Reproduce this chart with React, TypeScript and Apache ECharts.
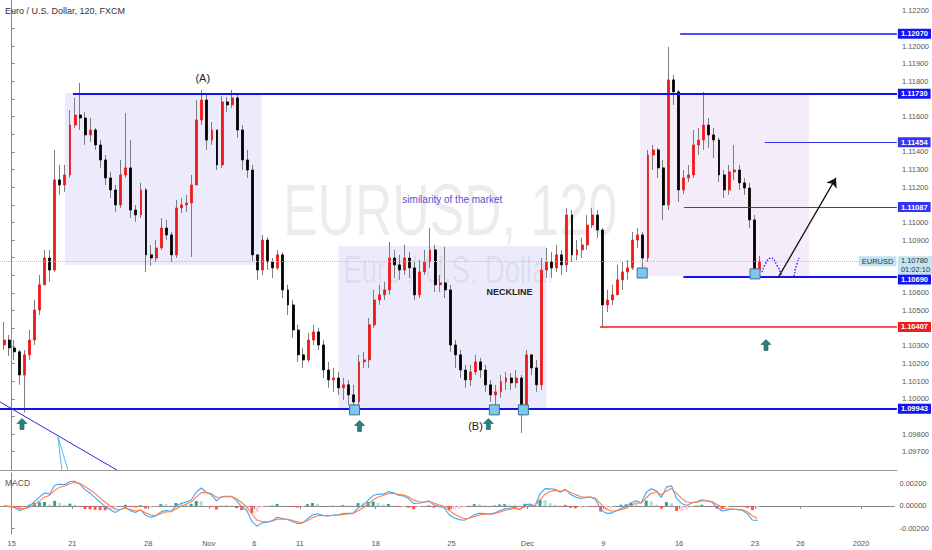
import React, { useEffect, useRef } from "react";
import * as echarts from "echarts";

// 8-hour candles (Oct 14 16:00 -> Dec 23 08:00)
const closes = [
  1.10333, 1.10288, 1.10266, 1.10135, 1.10249, 1.10333, 1.10503, 1.10646, 1.10798, 1.1073,
  1.11241, 1.11212, 1.11269, 1.11552, 1.11609, 1.11592, 1.11496, 1.11524, 1.11439, 1.11354,
  1.11252, 1.11184, 1.11099, 1.11269, 1.11309, 1.1107, 1.11042, 1.11184, 1.10816, 1.10798,
  1.10855, 1.10968, 1.10929, 1.10816, 1.11082, 1.11099, 1.1111, 1.11212, 1.11581, 1.11694,
  1.11467, 1.11524, 1.11326, 1.11683, 1.11666, 1.11706, 1.11524, 1.11354, 1.11297, 1.10816,
  1.1073, 1.109, 1.10776, 1.10742, 1.10816, 1.10617, 1.10532, 1.1039, 1.10249, 1.1022,
  1.10333, 1.10379, 1.10305, 1.10163, 1.10107, 1.10118, 1.10062, 1.10079, 1.10022, 1.09982,
  1.10209, 1.1022, 1.10419, 1.1056, 1.10589, 1.10617, 1.10798, 1.10759, 1.1073, 1.10798,
  1.10742, 1.10589, 1.10719, 1.10776, 1.10844, 1.10646, 1.10657, 1.10617, 1.10305, 1.10249,
  1.10163, 1.10107, 1.10152, 1.10209, 1.10163, 1.10079, 1.10022, 1.10039, 1.10096, 1.10118,
  1.1009, 1.10118, 1.09965, 1.10249, 1.10175, 1.10079, 1.1073, 1.10776, 1.10742, 1.10816,
  1.10759, 1.11042, 1.10816, 1.10844, 1.10872, 1.10985, 1.11042, 1.10957, 1.10532, 1.1056,
  1.10589, 1.10674, 1.10719, 1.10742, 1.109, 1.10929, 1.10798, 1.11382, 1.11411, 1.11309,
  1.11099, 1.11808, 1.1174, 1.11184, 1.11252, 1.11269, 1.11439, 1.11467, 1.11552, 1.11496,
  1.11467, 1.11269, 1.11184, 1.11286, 1.11297, 1.11224, 1.11195, 1.11014, 1.1073, 1.1078,
];
const highs = [
  1.10436, 1.10362, 1.10333, 1.10277, 1.10277, 1.1039, 1.1056, 1.10702, 1.10844, 1.10844,
  1.11411, 1.11326, 1.11326, 1.11637, 1.11706, 1.11791, 1.11626, 1.11592, 1.11535, 1.11467,
  1.11382, 1.11286, 1.11212, 1.11354, 1.1162, 1.11467, 1.11099, 1.11224, 1.11195, 1.10872,
  1.109, 1.11025, 1.11014, 1.10946, 1.11127, 1.11139, 1.11156, 1.11269, 1.11694, 1.11751,
  1.11722, 1.11569, 1.11524, 1.11717, 1.11711, 1.11751, 1.11722, 1.11552, 1.11411, 1.11326,
  1.10816, 1.10929, 1.10915, 1.10798, 1.10844, 1.1083, 1.10646, 1.1056, 1.10419, 1.10288,
  1.10373, 1.10419, 1.10402, 1.10333, 1.10209, 1.10175, 1.10152, 1.10118, 1.10107, 1.10079,
  1.10249, 1.10266, 1.10458, 1.10617, 1.10646, 1.10663, 1.10889, 1.10844, 1.10816, 1.10872,
  1.10832, 1.10776, 1.10787, 1.10844, 1.10968, 1.10872, 1.10702, 1.10861, 1.10646, 1.10333,
  1.10277, 1.10192, 1.10192, 1.10249, 1.10232, 1.10192, 1.10107, 1.10079, 1.10135, 1.10152,
  1.10146, 1.10163, 1.10135, 1.10277, 1.10249, 1.1022, 1.10798, 1.10855, 1.10832, 1.10872,
  1.10844, 1.11082, 1.1107, 1.109, 1.10912, 1.11042, 1.11082, 1.1107, 1.10968, 1.10617,
  1.10646, 1.10759, 1.10776, 1.10787, 1.10946, 1.10968, 1.10946, 1.11411, 1.11439, 1.11422,
  1.11354, 1.11995, 1.11836, 1.11751, 1.11297, 1.11326, 1.11524, 1.11535, 1.1174, 1.11592,
  1.11535, 1.11479, 1.11297, 1.11326, 1.11439, 1.11326, 1.11252, 1.11224, 1.11042, 1.1081,
];
const lows = [
  1.10277, 1.10243, 1.1022, 1.10079, 1.09922, 1.1022, 1.10305, 1.10475, 1.10646, 1.10663,
  1.10719, 1.11156, 1.11173, 1.11252, 1.11535, 1.11524, 1.11439, 1.11456, 1.11411, 1.11309,
  1.11212, 1.11139, 1.11059, 1.11082, 1.11252, 1.11025, 1.11003, 1.11025, 1.10719, 1.10753,
  1.10776, 1.10844, 1.109, 1.10776, 1.10798, 1.11053, 1.11059, 1.10804, 1.11212, 1.11552,
  1.11411, 1.11439, 1.11297, 1.11309, 1.11626, 1.11649, 1.11479, 1.11297, 1.11252, 1.10776,
  1.10674, 1.10702, 1.1073, 1.10685, 1.1073, 1.10571, 1.10475, 1.10345, 1.10209, 1.10175,
  1.10209, 1.10305, 1.10277, 1.10118, 1.10062, 1.10039, 1.10022, 1.09993, 1.09965, 1.09931,
  1.09948, 1.10175, 1.10175, 1.10402, 1.10532, 1.1056, 1.10589, 1.10685, 1.10674, 1.10702,
  1.10685, 1.1056, 1.10571, 1.10702, 1.10742, 1.10606, 1.10606, 1.10571, 1.10266, 1.10175,
  1.10118, 1.10062, 1.10073, 1.10135, 1.10118, 1.10039, 1.09982, 1.09948, 1.10005, 1.1005,
  1.1005, 1.10062, 1.09806, 1.09948, 1.10135, 1.10039, 1.1005, 1.10685, 1.10685, 1.10719,
  1.10702, 1.10719, 1.10776, 1.10787, 1.10798, 1.10844, 1.10968, 1.10912, 1.10407, 1.10492,
  1.10532, 1.10589, 1.10617, 1.10674, 1.1073, 1.10855, 1.10685, 1.10776, 1.11297, 1.11252,
  1.11014, 1.1107, 1.11666, 1.11116, 1.1116, 1.11229, 1.11252, 1.11382, 1.11411, 1.11422,
  1.11365, 1.11229, 1.11139, 1.11156, 1.11241, 1.11184, 1.11156, 1.10968, 1.10691, 1.10691,
];
const firstOpen = 1.10305;

// x axis: trading days counted from Oct 15
const dateTickDays = [0, 4, 9, 13, 16, 19, 24, 29, 34, 39, 44, 49, 52, 56];
const dateTickLabels = ["15", "21", "28", "Nov", "6", "11", "18", "25", "Dec", "9", "16", "23", "26", "2020"];
const priceTicks = [
  1.097, 1.098, 1.099, 1.1, 1.101, 1.102, 1.103, 1.104, 1.105, 1.106, 1.107, 1.108, 1.109,
  1.11, 1.111, 1.112, 1.113, 1.114, 1.115, 1.116, 1.117, 1.118, 1.119, 1.12, 1.121, 1.122,
];
const macdTicks = [-0.002, 0, 0.002];

const levelPrices = [1.1207, 1.1173, 1.11454, 1.11087, 1.1069, 1.10407, 1.09943];
const levelStartDays = [43.95, 4.03, 49.51, 44.21, 44.16, 38.68, -0.768];
const levelColors = ["#1414f0", "#1414f0", "#3434f4", "#3434f4", "#1414f0", "#f21c1c", "#1414f0"];
const levelWidths = [1.5, 2, 1, 1, 2, 1.5, 2];
const lastPrice = 1.1078;
const countdown = "01:02:10";

const boxes = [
  [3.5, 1.11734, 16.43, 1.10759],
  [21.49, 1.10866, 35.15, 1.09937],
  [41.32, 1.11728, 52.42, 1.10696],
];
const upArrows = [
  [0.68, 1.09857],
  [22.87, 1.09846],
  [31.34, 1.09857],
  [49.59, 1.10305],
];
const touchSquares = [
  [22.54, 1.09937],
  [31.73, 1.09937],
  [33.64, 1.09937],
  [41.45, 1.10713],
  [48.87, 1.10708],
];
const notes = [
  { text: "(A)", at: [12.56, 1.11819] },
  { text: "(B)", at: [30.49, 1.09846] },
  { text: "similarity of the market", at: [28.97, 1.11127] },
  { text: "NECKLINE", at: [32.72, 1.10606] },
];
const projectionArrow = [
  [50.38, 1.10685],
  [54.19, 1.11252],
];
const bouncePath = [
  [49.33, 1.10719],
  [49.92, 1.10798],
  [50.38, 1.10747],
  [50.78, 1.10691],
  [51.3, 1.10691],
  [51.56, 1.10747],
  [51.76, 1.10798],
];
const trendLine = [
  [-0.768, 1.09982],
  [6.91, 1.09596],
];
const fibLines = [
  [[3.04, 1.09784], [3.3, 1.09596]],
  [[3.04, 1.09784], [3.7, 1.09596]],
];

const X_MIN = -0.768;
const X_MAX = 58.195;
const Y_MIN = 1.09596;
const Y_MAX = 1.12261;
const FONT = "Liberation Sans";

export default function App() {
  const ref = useRef<HTMLDivElement>(null);

  useEffect(() => {
    document.body.style.margin = "0";
    if (!ref.current) return;
    const chart = echarts.init(ref.current, undefined, { renderer: "svg" });

    const days = closes.map((_, i) => i / 3 - 0.5);
    const opens = closes.map((c, i) => (i === 0 ? firstOpen : closes[i - 1]));
    const wickData = closes.map((c, i) => [days[i], opens[i], c, lows[i], highs[i]]);
    const bodyData = closes.map((c, i) => [
      days[i],
      opens[i],
      c,
      Math.min(opens[i], c),
      Math.max(opens[i], c),
    ]);

    // MACD(12,26,9) of 2h bars, expressed on 8h candles
    const ema = (arr: number[], n: number) => {
      const k = 2 / (n + 1);
      let e = arr[0];
      return arr.map((v) => (e = v * k + e * (1 - k)));
    };
    const fast = ema(closes, 3.75);
    const slow = ema(closes, 7.25);
    const macd = closes.map((_, i) => fast[i] - slow[i]);
    const signal = ema(macd, 3);
    const hist = macd.map((m, i) => m - signal[i]);
    const histData = hist.map((h, i) => {
      const prev = i > 0 ? hist[i - 1] : h;
      const color = h >= 0 ? (h > prev ? "#26a69a" : "#b2dfdb") : h > prev ? "#ffcdd2" : "#ff5252";
      return { value: [days[i], h], itemStyle: { color } };
    });

    // tick labels that the price boxes cover are left out
    const boxPrices = [...levelPrices, lastPrice];
    const visiblePriceLabels = priceTicks.filter(
      (t) => boxPrices.every((b) => Math.abs(b - t) > 0.0005)
    );

    const levelLines = levelPrices.map((p, k) => [
      {
        coord: [levelStartDays[k], p],
        lineStyle: { color: levelColors[k], width: levelWidths[k], type: "solid" },
        label: {
          show: true,
          position: "end",
          distance: 1,
          formatter: p.toFixed(5),
          backgroundColor: levelColors[k],
          color: "#fff",
          fontSize: 7.5,
          lineHeight: 9,
          fontWeight: "bold",
          fontFamily: FONT,
          padding: [1, 3, 0, 3],
          offset: [0, Math.abs(p - 1.1069) < 1e-6 ? 2.5 : 0],
        },
      },
      { coord: [X_MAX, p] },
    ]);

    const plainLine = (a: number[], b: number[], color: string, width: number) => [
      { coord: a, lineStyle: { color, width, type: "solid" }, label: { show: false } },
      { coord: b },
    ];

    const arrowPath = "path://M5,0 L10,5 L7,5 L7,11 L3,11 L3,5 L0,5 Z";

    const option: any = {
      animation: false,
      backgroundColor: "#ffffff",
      grid: [
        { left: 0, right: 34, top: 0, height: 470 },
        { left: 0, right: 34, top: 473, height: 61 },
      ],
      xAxis: [
        {
          type: "value",
          gridIndex: 0,
          min: X_MIN,
          max: X_MAX,
          axisLine: { show: true, lineStyle: { color: "#9a9a9a", width: 1 } },
          axisTick: { show: false },
          axisLabel: { show: false },
          splitLine: { show: false },
        },
        {
          type: "value",
          gridIndex: 1,
          min: X_MIN,
          max: X_MAX,
          axisLine: { show: true, lineStyle: { color: "#8a8a8a", width: 1 } },
          axisTick: { show: true, customValues: dateTickDays, length: 3, lineStyle: { color: "#8a8a8a" } },
          axisLabel: {
            show: true,
            customValues: dateTickDays,
            formatter: (v: number) => {
              const k = dateTickDays.indexOf(Math.round(v));
              return k >= 0 ? dateTickLabels[k] : "";
            },
            fontSize: 7.5,
            color: "#555",
            fontFamily: FONT,
            margin: 5,
          },
          splitLine: { show: false },
        },
      ],
      yAxis: [
        {
          type: "value",
          gridIndex: 0,
          position: "right",
          min: Y_MIN,
          max: Y_MAX,
          scale: true,
          axisLine: { show: true, lineStyle: { color: "#8a8a8a", width: 1 } },
          axisTick: { show: true, customValues: priceTicks, length: 3, lineStyle: { color: "#8a8a8a" } },
          axisLabel: {
            show: true,
            customValues: visiblePriceLabels,
            formatter: (v: number) => v.toFixed(5),
            fontSize: 7.5,
            color: "#555",
            fontFamily: FONT,
            margin: 5,
          },
          splitLine: { show: false },
        },
        {
          type: "value",
          gridIndex: 1,
          position: "right",
          min: -0.0025,
          max: 0.00293,
          axisLine: { show: true, lineStyle: { color: "#8a8a8a", width: 1 } },
          axisTick: { show: true, customValues: macdTicks, length: 3, lineStyle: { color: "#8a8a8a" } },
          axisLabel: {
            show: true,
            customValues: macdTicks,
            formatter: (v: number) => (Math.abs(v) < 1e-9 ? "0.00000" : v.toFixed(5)),
            fontSize: 7.5,
            color: "#555",
            fontFamily: FONT,
            margin: 5,
          },
          splitLine: { show: false },
        },
      ],
      graphic: [
        {
          type: "text",
          x: 450,
          y: 210,
          scaleX: 0.72,
          z: 0,
          silent: true,
          style: {
            text: "EURUSD, 120",
            fontSize: 72,
            fontFamily: FONT,
            fill: "rgba(0,0,0,0.075)",
            align: "center",
            verticalAlign: "middle",
          },
        },
        {
          type: "text",
          x: 450,
          y: 270,
          scaleX: 0.72,
          z: 0,
          silent: true,
          style: {
            text: "Euro / U.S. Dollar",
            fontSize: 38,
            fontFamily: FONT,
            fill: "rgba(0,0,0,0.075)",
            align: "center",
            verticalAlign: "middle",
          },
        },
        {
          type: "text",
          x: 5,
          y: 11,
          z: 10,
          style: {
            text: "Euro / U.S. Dollar, 120, FXCM",
            fontSize: 9,
            fontFamily: FONT,
            fill: "#333",
            verticalAlign: "middle",
          },
        },
        {
          type: "text",
          x: 5,
          y: 483,
          z: 10,
          style: {
            text: "MACD",
            fontSize: 8.5,
            fontFamily: FONT,
            fill: "#555",
            verticalAlign: "middle",
          },
        },
      ],
      series: [
        {
          name: "wicks",
          type: "candlestick",
          xAxisIndex: 0,
          yAxisIndex: 0,
          data: wickData,
          encode: { x: 0, y: [1, 2, 3, 4] },
          barWidth: 1,
          z: 2,
          clip: false,
          silent: true,
          itemStyle: {
            color: "#7d7d7d",
            color0: "#7d7d7d",
            borderColor: "#7d7d7d",
            borderColor0: "#7d7d7d",
            borderWidth: 1,
          },
          markArea: {
            silent: true,
            data: boxes.map((b, k) => [
              {
                coord: [b[0], b[1]],
                itemStyle: { color: k === 2 ? "rgba(205,160,225,0.2)" : "rgba(120,120,235,0.15)" },
              },
              { coord: [b[2], b[3]] },
            ]),
          },
        },
        {
          name: "bodies",
          type: "candlestick",
          xAxisIndex: 0,
          yAxisIndex: 0,
          data: bodyData,
          encode: { x: 0, y: [1, 2, 3, 4] },
          barWidth: 2.4,
          z: 3,
          clip: false,
          silent: true,
          itemStyle: {
            color: "#f01818",
            color0: "#000000",
            borderColor: "#f01818",
            borderColor0: "#000000",
            borderWidth: 0.8,
          },
          markLine: {
            silent: true,
            symbol: "none",
            animation: false,
            data: [
              ...levelLines,
              [
                {
                  coord: [X_MIN, lastPrice],
                  lineStyle: { color: "#96cfea", width: 1, type: "dotted" },
                  label: {
                    show: true,
                    position: "end",
                    distance: 1,
                    formatter: lastPrice.toFixed(5) + "\n" + countdown,
                    backgroundColor: "#bfe4f4",
                    color: "#333",
                    fontSize: 7.5,
                    lineHeight: 8.5,
                    fontFamily: FONT,
                    padding: [1, 3, 0, 3],
                    offset: [0, 4],
                  },
                },
                { coord: [X_MAX, lastPrice] },
              ],
              plainLine(trendLine[0], trendLine[1], "#2a2ae0", 1),
              plainLine(fibLines[0][0], fibLines[0][1], "#5db6ef", 1),
              plainLine(fibLines[1][0], fibLines[1][1], "#5db6ef", 1),
              [
                {
                  coord: projectionArrow[0],
                  symbol: "none",
                  lineStyle: { color: "#111", width: 1.3, type: "solid" },
                  label: { show: false },
                },
                { coord: projectionArrow[1], symbol: "arrow", symbolSize: 9 },
              ],
            ],
          },
          markPoint: {
            silent: true,
            animation: false,
            data: [
              ...upArrows.map((a) => ({
                coord: a,
                symbol: arrowPath,
                symbolSize: [10, 11],
                itemStyle: { color: "#2f8080", borderColor: "#1d5656", borderWidth: 0.6 },
                label: { show: false },
              })),
              ...touchSquares.map((s) => ({
                coord: s,
                symbol: "rect",
                symbolSize: 10,
                itemStyle: { color: "#80c8ea", borderColor: "#3a6f90", borderWidth: 1 },
                label: { show: false },
              })),
              {
                coord: [X_MAX, lastPrice],
                symbol: "rect",
                symbolSize: 1,
                itemStyle: { color: "rgba(0,0,0,0)" },
                label: {
                  show: true,
                  position: "left",
                  distance: 0,
                  formatter: "EURUSD",
                  backgroundColor: "#bfe4f4",
                  color: "#333",
                  fontSize: 7.5,
                  lineHeight: 9,
                  fontFamily: FONT,
                  padding: [1, 3, 0, 3],
                },
              },
              ...notes.map((n) => ({
                coord: n.at,
                symbol: "rect",
                symbolSize: 1,
                itemStyle: { color: "rgba(0,0,0,0)" },
                label: {
                  show: true,
                  position: "inside",
                  formatter: n.text,
                  fontFamily: FONT,
                  fontSize: n.text === "NECKLINE" ? 9 : n.text.length > 5 ? 10 : 11,
                  fontWeight: n.text === "NECKLINE" ? "bold" : "normal",
                  color: n.text.length > 10 ? "#5a4fd0" : "#222",
                },
              })),
            ],
          },
        },
        {
          name: "bounce",
          type: "line",
          xAxisIndex: 0,
          yAxisIndex: 0,
          data: bouncePath,
          smooth: true,
          symbol: "none",
          z: 4,
          silent: true,
          lineStyle: { color: "#2f2ff0", width: 1.5, type: "dotted" },
        },
        {
          name: "hist",
          type: "bar",
          xAxisIndex: 1,
          yAxisIndex: 1,
          data: histData,
          barWidth: 3,
          z: 2,
          silent: true,
        },
        {
          name: "macd",
          type: "line",
          xAxisIndex: 1,
          yAxisIndex: 1,
          data: macd.map((m, i) => [days[i], m]),
          symbol: "none",
          z: 3,
          silent: true,
          lineStyle: { color: "#42a5f5", width: 1.1 },
        },
        {
          name: "signal",
          type: "line",
          xAxisIndex: 1,
          yAxisIndex: 1,
          data: signal.map((s, i) => [days[i], s]),
          symbol: "none",
          z: 3,
          silent: true,
          lineStyle: { color: "#ff7f45", width: 1.1 },
        },
      ],
    };

    chart.setOption(option);
    return () => chart.dispose();
  }, []);

  return <div ref={ref} style={{ width: 932, height: 550 }} />;
}
